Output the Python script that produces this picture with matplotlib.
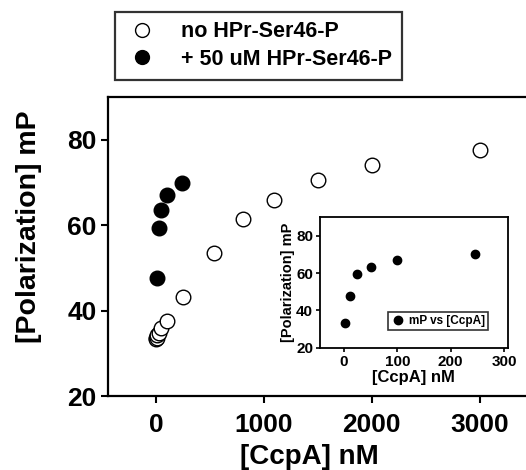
import matplotlib.pyplot as plt

plt.rcParams['font.family'] = ['Liberation Sans', 'DejaVu Sans']
plt.rcParams['font.weight'] = 'bold'

# open circles: no HPr-Ser46-P
ccpa_open = [3, 6, 12, 25, 50, 100, 250, 540, 810, 1090, 1500, 2000, 3000]
mp_open = [33.3, 33.7, 34.2, 34.8, 36.0, 37.6, 43.2, 53.6, 61.4, 66.0, 70.5, 74.0, 77.5]

# filled circles: + 50 uM HPr-Ser46-P
ccpa_fill = [1, 12, 25, 50, 100, 245]
mp_fill = [33.5, 47.6, 59.3, 63.5, 67.0, 70.0]

fig = plt.figure(figsize=(5.26, 4.7), dpi=100)
ax = fig.add_axes([0.2044, 0.1574, 0.81, 0.636])

ax.plot(ccpa_fill, mp_fill, 'o', color='black', markersize=10.5, linestyle='none',
        label='+ 50 uM HPr-Ser46-P')
ax.plot(ccpa_open, mp_open, 'o', markerfacecolor='white', markeredgecolor='black',
        markeredgewidth=1.0, markersize=10.5, linestyle='none', label='no HPr-Ser46-P')

ax.set_xlim(-450, 3500)
ax.set_ylim(20, 90)
ax.set_xticks([0, 1000, 2000, 3000])
ax.set_yticks([20, 40, 60, 80])
ax.tick_params(labelsize=19, width=1.5, length=5)
ax.tick_params(axis='x', pad=7)
ax.tick_params(axis='y', pad=3)
for s in ax.spines.values():
    s.set_linewidth(1.6)
ax.set_xlabel('[CcpA] nM', fontsize=20, fontweight='bold')
ax.set_ylabel('[Polarization] mP', fontsize=20.5, fontweight='bold')
ax.xaxis.set_label_coords(0.473, -0.162)
ax.yaxis.set_label_coords(-0.153, 0.565)

h, l = ax.get_legend_handles_labels()
leg = fig.legend([h[1], h[0]], [l[1], l[0]], loc='center',
                 bbox_to_anchor=(0.4915, 0.903), fontsize=15.5, frameon=True,
                 fancybox=False, edgecolor='black', handletextpad=1.0,
                 borderpad=0.45, labelspacing=0.3, markerscale=0.95,
                 handlelength=1.6)
leg.get_frame().set_linewidth(1.6)

# inset
ins = fig.add_axes([0.6084, 0.2602, 0.357, 0.278])
ins.plot(ccpa_fill, mp_fill, 'o', color='black', markersize=6, linestyle='none',
         label='mP vs [CcpA]')
ins.set_xlim(-45, 307)
ins.set_ylim(20, 90)
ins.set_xticks([0, 100, 200, 300])
ins.set_yticks([20, 40, 60, 80])
ins.tick_params(labelsize=11, width=1.2, length=3, pad=2)
for s in ins.spines.values():
    s.set_linewidth(1.3)
ins.set_xlabel('[CcpA] nM', fontsize=12, fontweight='bold', labelpad=1)
ins.set_ylabel('[Polarization] mP', fontsize=10.5, fontweight='bold', labelpad=1)
il = ins.legend(loc='center', bbox_to_anchor=(0.629, 0.204), fontsize=8.5,
                frameon=True, fancybox=False, edgecolor='black', handletextpad=0.3,
                borderpad=0.25, handlelength=1.2)
il.get_frame().set_linewidth(1.2)

fig.savefig('out.png', dpi=100)
